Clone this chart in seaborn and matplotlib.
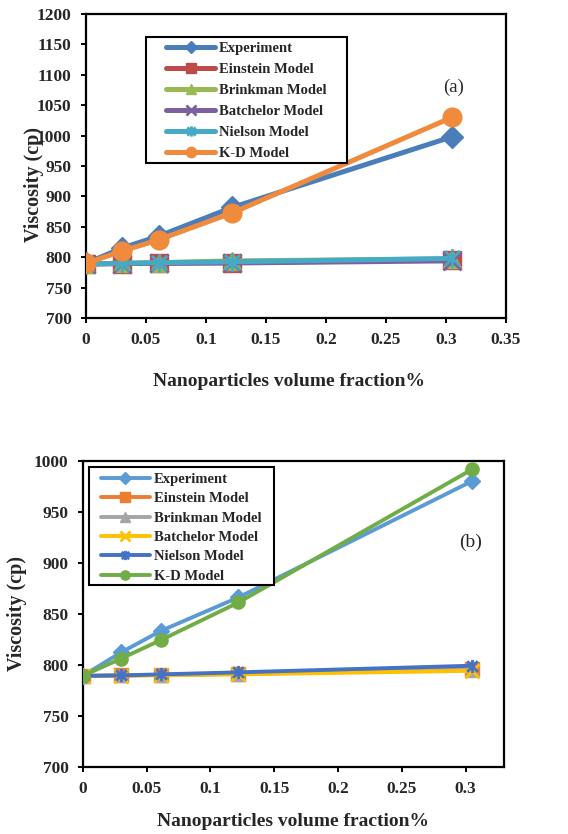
import numpy as np
import pandas as pd
import matplotlib
matplotlib.use("Agg")
import matplotlib.pyplot as plt
from matplotlib.path import Path
from matplotlib.patches import Rectangle
import seaborn as sns

# ---------------- data ----------------
phi = [0, 0.03, 0.061, 0.122, 0.305]
series_names = ["Experiment", "Einstein Model", "Brinkman Model",
                "Batchelor Model", "Nielson Model", "K-D Model"]

# panel (a)
exp_a = [790, 815, 835, 882, 998]
ein_a = [789, 789.5, 790, 791, 796]
brink_a = [789, 790, 791, 794, 797]
batch_a = [789, 789.5, 790, 790.5, 794]
niel_a = [789, 790, 791, 792.5, 798]
kd_a = [790, 810, 829, 873, 1030]

# panel (b)
exp_b = [789, 812, 833, 866, 980]
ein_b = [789, 789.5, 790, 791, 796]
brink_b = [789, 789.5, 790, 791, 795]
batch_b = [789, 789.2, 789.6, 790.5, 794]
niel_b = [789, 789.5, 790.5, 792.5, 799]
kd_b = [789, 806, 824, 861, 991.5]

xticks_a = [0, 0.05, 0.1, 0.15, 0.2, 0.25, 0.3, 0.35]
xticklabels_a = ["0", "0.05", "0.1", "0.15", "0.2", "0.25", "0.3", "0.35"]
yticks_a = [700, 750, 800, 850, 900, 950, 1000, 1050, 1100, 1150, 1200]
xticks_b = [0, 0.05, 0.1, 0.15, 0.2, 0.25, 0.3]
xticklabels_b = ["0", "0.05", "0.1", "0.15", "0.2", "0.25", "0.3"]
yticks_b = [700, 750, 800, 850, 900, 950, 1000]

# ---------------- style ----------------
sns.set_style("white")
plt.rcParams["font.family"] = ["Liberation Serif", "DejaVu Serif"]
plt.rcParams["font.weight"] = "bold"

star = Path([(-1, -1), (1, 1), (-1, 1), (1, -1), (0, -1.25), (0, 1.25)],
            [Path.MOVETO, Path.LINETO] * 3)
markers = ["D", "s", "^", "x", star, "o"]
colors_a = ["#4A7EBB", "#BE4B48", "#98B954", "#7D60A0", "#46AAC5", "#F08A3C"]
colors_b = ["#5B9BD5", "#ED7D31", "#A5A5A5", "#FFC000", "#4472C4", "#70AD47"]

fig = plt.figure(figsize=(5.68, 8.34), dpi=100)
ax_a = fig.add_axes([0.1514, 0.6187, 0.7394, 0.3645])
ax_b = fig.add_axes([0.1456, 0.0807, 0.7417, 0.3669])


def draw(ax, data, colors, lw, ms, msizes_scale):
    for name, vals, mk, c in zip(series_names, data, markers, colors):
        df = pd.DataFrame({"phi": phi, "visc": vals})
        sz = ms * msizes_scale.get(name, 1.0)
        mew = 2.0 if mk in ("x",) or isinstance(mk, Path) else 1.0
        sns.lineplot(data=df, x="phi", y="visc", ax=ax, color=c, lw=lw,
                     marker=mk, markersize=sz, markeredgecolor=c,
                     markerfacecolor=c, markeredgewidth=mew,
                     label=name, sort=False, zorder=3)


draw(ax_a, [exp_a, ein_a, brink_a, batch_a, niel_a, kd_a], colors_a,
     3.6, 13.5, {"Experiment": 0.85, "Brinkman Model": 1.0})
draw(ax_b, [exp_b, ein_b, brink_b, batch_b, niel_b, kd_b], colors_b,
     2.8, 9.5, {"Experiment": 0.85})


def style_axes(ax, xlim, ylim, xticks, xtl, yticks):
    ax.set_xlim(*xlim)
    ax.set_ylim(*ylim)
    ax.set_xticks(xticks)
    ax.set_xticklabels(xtl)
    ax.set_yticks(yticks)
    ax.set_yticklabels([str(v) for v in yticks])
    for s in ax.spines.values():
        s.set_visible(True)
        s.set_color("black")
        s.set_linewidth(1.6)
    ax.tick_params(axis="both", which="major", direction="out", length=3.8,
                   width=1.4, color="black", labelsize=12.5, pad=6.5,
                   bottom=True, left=True)
    for lab in ax.get_xticklabels() + ax.get_yticklabels():
        lab.set_fontweight("bold")
    ax.set_xlabel("Nanoparticles volume fraction%", fontsize=14, fontweight="bold")
    ax.set_ylabel("Viscosity (cp)", fontsize=14.5, fontweight="bold")


style_axes(ax_a, (0, 0.35), (700, 1200), xticks_a, xticklabels_a, yticks_a)
style_axes(ax_b, (0, 0.33), (700, 1000), xticks_b, xticklabels_b, yticks_b)

ax_a.xaxis.set_label_coords(0.483, -0.181)
ax_a.yaxis.set_label_coords(-0.10, 0.44)
ax_b.xaxis.set_label_coords(0.499, -0.151)
ax_b.yaxis.set_label_coords(-0.132, 0.502)

# legend frames (box) and legends
legend_cfg = [
    # ax, box (x0, y0, x1, y1) in axes coords, legend anchor, markerscale, labelspacing
    (ax_a, (0.142, 0.511, 0.622, 0.925), (0.1905, 0.908), 0.55, 0.53),
    (ax_b, (0.0142, 0.595, 0.454, 0.978), (0.0427, 0.960), 0.7, 0.42),
]
for ax, box, anchor, mscale, lsp in legend_cfg:
    ax.add_patch(Rectangle((box[0], box[1]), box[2] - box[0], box[3] - box[1],
                           transform=ax.transAxes, facecolor="white",
                           edgecolor="black", linewidth=1.5, zorder=5))
    leg = ax.legend(loc="upper left", bbox_to_anchor=anchor, borderaxespad=0,
                    borderpad=0, frameon=False, handlelength=3.36,
                    handletextpad=0.27, labelspacing=lsp, markerscale=mscale,
                    prop={"weight": "bold", "size": 10.5})
    leg.set_zorder(6)

ax_a.text(0.306, 1080, "(a)", fontsize=13.5, fontweight="normal",
          ha="center", va="center")
ax_b.text(0.304, 920, "(b)", fontsize=14, fontweight="normal",
          ha="center", va="center")

fig.savefig("out.png", dpi=100)
